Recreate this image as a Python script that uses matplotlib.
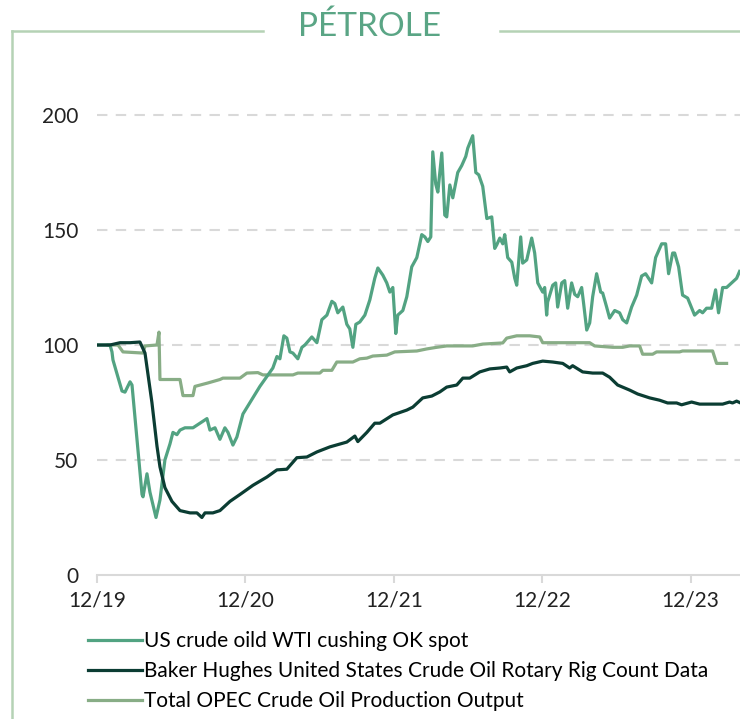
import matplotlib.pyplot as plt
from matplotlib.lines import Line2D

plt.rcParams['font.family'] = ['Lato', 'DejaVu Sans']

# x = months since 12/19, values rebased to 100
wti_month = [0, 1.05, 1.21, 1.29, 2.02, 2.26, 2.67, 2.83, 3.64, 3.72, 4.04, 4.28, 4.77, 5.09,
             5.49, 5.9, 6.14, 6.46, 6.71, 7.11, 7.76, 8.89, 9.13, 9.54, 9.94, 10.34, 10.59,
             10.99, 11.31, 11.8, 13.17, 14.22, 14.55, 14.79, 15.11, 15.35, 15.6, 15.84, 16.24,
             16.57, 16.81, 17.37, 17.78, 18.18, 18.59, 18.99, 19.23, 19.47, 19.88, 20.2, 20.44,
             20.69, 20.93, 21.25, 21.66, 22.06, 22.46, 22.71, 23.11, 23.43, 23.68, 23.92, 24.16,
             24.32, 24.73, 25.05, 25.45, 25.86, 26.26, 26.51, 26.75, 26.99, 27.15, 27.39, 27.56,
             27.88, 28.12, 28.28, 28.53, 28.77, 29.17, 29.49, 29.82, 29.98, 30.38, 30.63, 30.87,
             31.19, 31.52, 31.92, 32.16, 32.32, 32.57, 32.81, 32.97, 33.21, 33.54, 33.78, 33.94,
             34.26, 34.42, 34.75, 35.15, 35.39, 35.64, 36.04, 36.2, 36.36, 36.44, 36.85, 37.09,
             37.25, 37.58, 37.82, 38.06, 38.38, 38.63, 38.87, 39.19, 39.35, 39.6, 39.84, 40.08,
             40.4, 40.73, 40.89, 41.21, 41.45, 41.86, 42.26, 42.51, 42.83, 43.23, 43.64, 44.04,
             44.36, 44.85, 45.17, 45.66, 45.98, 46.22, 46.55, 46.71, 47.03, 47.35, 47.76, 48.32,
             48.73, 48.97, 49.29, 49.7, 50.02, 50.26, 50.59, 50.91, 51.31, 51.72, 51.96]
wti = [100, 100, 97, 93.5, 80, 79.5, 84, 82.6, 35, 34, 44, 36, 25, 32.6,
       50, 57, 62, 61, 63, 64, 64, 68, 63, 64, 59, 64, 62,
       56.5, 60, 70, 82, 90, 95, 94, 104, 103, 97, 96.5, 94,
       99, 100, 103.5, 101, 111, 113, 119, 118, 114, 116.5, 109, 107,
       99, 109, 110, 113, 119.6, 129, 133.5, 130.4, 127, 123, 125, 105,
       113, 115, 121, 134, 138, 148, 147, 145, 147, 184, 170, 166.5,
       183.5, 156.5, 155.7, 169.6, 164, 175, 178, 182, 185.6, 191, 175, 174,
       169, 155, 155.7, 142, 143.5, 146.5, 144, 148, 138, 136, 129, 126,
       147, 135.6, 137, 146.5, 140, 127, 123, 125, 113, 118.7, 126, 127,
       116.5, 127, 128, 116, 127, 122, 121, 125, 118, 106.5, 109.6, 121,
       131, 123, 122.6, 116.5, 111.7, 115, 114, 111, 109.6, 116.5, 121.7, 130,
       131, 127, 138, 144, 144, 131, 140, 140, 134, 121.7, 120.4, 113,
       115, 114, 116, 116, 124, 114, 125, 125, 127, 129, 132]

rig_month = [0, 1.05, 1.86, 2.67, 3.47, 3.88, 4.44, 4.85, 5.09, 5.49, 6.06, 6.71, 7.52, 8.08,
             8.48, 8.73, 9.37, 9.94, 10.75, 11.56, 12.61, 13.74, 14.55, 15.35, 16.16, 16.97,
             17.78, 18.83, 20.2, 20.85, 21.09, 21.82, 22.46, 22.87, 23.92, 25.05, 25.54, 26.34,
             27.07, 27.72, 28.28, 29.09, 29.58, 30.14, 30.95, 31.76, 32.57, 33.13, 33.37, 33.94,
             34.75, 35.23, 36.04, 36.85, 37.66, 38.22, 38.46, 39.27, 40.08, 40.89, 41.45, 42.1,
             43.07, 43.72, 44.69, 45.49, 46.14, 46.87, 47.27, 48.08, 48.73, 49.78, 50.59, 51.15,
             51.39, 51.72, 51.96]
rig = [100, 100, 101, 101, 101.3, 96.5, 75, 56, 47, 38, 32, 28, 27, 27,
       25, 27, 27, 28, 32, 35, 39, 42.6, 45.7, 46, 51, 51.3,
       53.5, 55.7, 57.8, 60.4, 58, 62, 66, 66, 69.6, 71.7, 73, 77,
       77.8, 79.6, 81.7, 82.6, 85.6, 85.6, 88.3, 89.6, 90, 90.4, 88.3, 90,
       91, 92, 93, 92.6, 92, 90, 91, 88.3, 87.8, 87.8, 86, 82.6,
       80.4, 78.7, 77, 76, 74.8, 74.8, 74, 75.2, 74.3, 74.3, 74.3, 75.2,
       74.8, 75.6, 75]

opec_month = [0.9, 1.7, 2.1, 3.72, 3.88, 4.85, 5.01, 5.09, 6.71, 6.95, 7.76, 7.92, 8.97, 9.94,
              10.18, 11.56, 12.12, 13.01, 13.41, 15.84, 16.24, 18.02, 18.26, 18.99, 19.39,
              20.69, 21.25, 21.82, 22.3, 23.43, 24.08, 25.86, 26.67, 27.47, 28.28, 30.38,
              31.19, 32.81, 33.13, 33.94, 34.99, 35.8, 36.04, 39.84, 40.24, 41.7, 42.51,
              43.07, 43.88, 44.12, 44.93, 45.25, 47.11, 47.35, 49.78, 50.1, 50.91]
opec = [100, 100, 97, 96.5, 99.6, 100, 105.6, 85, 85, 78, 78, 82, 83.5, 85,
        85.6, 85.6, 87.8, 88, 87, 87, 87.8, 87.8, 89, 89, 92.6,
        92.6, 94, 94.3, 95.2, 95.6, 97, 97.4, 98.3, 99, 99.6, 99.6,
        100.4, 100.9, 103, 104, 104, 103.5, 101, 101, 99.6, 99, 99,
        99.6, 99.6, 96, 96, 97, 97, 97.4, 97.4, 92, 92]

tick_months = [0, 12, 24, 36, 48]
tick_labels = ['12/19', '12/20', '12/21', '12/22', '12/23']
y_ticks = [0, 50, 100, 150, 200]

c_wti = '#52a382'
c_rig = '#0b3d33'
c_opec = '#88ad86'

fig = plt.figure(figsize=(7.4, 7.19), dpi=100)
ax = fig.add_axes([0.1311, 0.2003, 0.869, 0.6717])

ax.plot(opec_month, opec, color=c_opec, lw=2.3, solid_joinstyle='round')
ax.plot(wti_month, wti, color=c_wti, lw=2.3, solid_joinstyle='round')
ax.plot(rig_month, rig, color=c_rig, lw=2.3, solid_joinstyle='round')

ax.set_xlim(0, 52)
ax.set_ylim(0, 210)
ax.set_yticks(y_ticks)
ax.set_xticks(tick_months)
ax.set_xticklabels(tick_labels)
for y in y_ticks[1:]:
    ax.axhline(y, color='#d9d9d9', lw=1.5, dashes=(5, 4), zorder=0)

for s in ['top', 'right', 'left']:
    ax.spines[s].set_visible(False)
ax.spines['bottom'].set_color('#d9d9d9')
ax.spines['bottom'].set_linewidth(1.5)
ax.tick_params(axis='x', length=6, width=1.5, color='#d9d9d9', labelsize=15,
               labelcolor='#222222', pad=5)
ax.tick_params(axis='y', length=0, labelsize=15, labelcolor='#222222', pad=13.5)

# frame and title
frame = '#b5d2b5'
fig.add_artist(Line2D([12/740, 12/740], [0, 1 - 31/719], color=frame, lw=1.8))
fig.add_artist(Line2D([12/740, 263/740], [1 - 31/719] * 2, color=frame, lw=1.8))
fig.add_artist(Line2D([500/740, 1], [1 - 31/719] * 2, color=frame, lw=1.8))
fig.text(370/740, 1 - 27/719, 'PÉTROLE', color='#5aa585', fontsize=24,
         ha='center', va='center')

handles = [Line2D([], [], color=c_wti, lw=2.3),
           Line2D([], [], color=c_rig, lw=2.3),
           Line2D([], [], color=c_opec, lw=2.3)]
labels = ['US crude oild WTI cushing OK spot',
          'Baker Hughes United States Crude Oil Rotary Rig Count Data',
          'Total OPEC Crude Oil Production Output']
fig.legend(handles, labels, loc='upper left', bbox_to_anchor=(88/740, 1 - 631/719),
           frameon=False, fontsize=15, handlelength=2.6, handletextpad=0.1,
           labelspacing=0.48, borderpad=0, borderaxespad=0)

fig.savefig('out.png', dpi=100)
